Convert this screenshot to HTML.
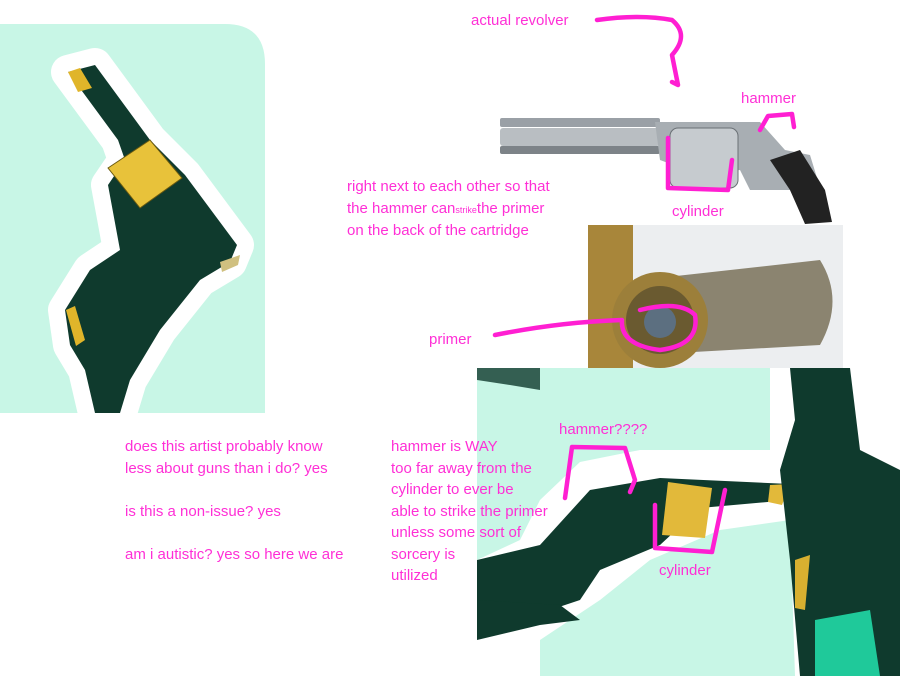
<!DOCTYPE html>
<html><head><meta charset="utf-8"><style>
html,body{margin:0;padding:0;background:#fff;}
body{width:900px;height:676px;overflow:hidden;position:relative;font-family:"Liberation Sans","DejaVu Sans",sans-serif;}
.t{position:absolute;color:#ff2fd6;font-size:15px;line-height:21.5px;white-space:nowrap;}
svg{position:absolute;left:0;top:0;}
</style></head><body>
<svg width="900" height="676" viewBox="0 0 900 676">
  <path d="M0 24 H225 Q265 24 265 64 V413 H0 Z" fill="#c8f6e6"/>
  <path d="M68 72 L95 65 L150 140 L185 175 L237 245 L230 262 L200 280 L160 330 L130 380 L120 413 L95 413 L85 370 L70 345 L65 310 L90 270 L120 250 L108 185 L125 160 L118 140 Z" fill="#fff" stroke="#fff" stroke-width="34" stroke-linejoin="round"/>
  <path d="M68 72 L95 65 L150 140 L185 175 L237 245 L230 262 L200 280 L160 330 L130 380 L120 413 L95 413 L85 370 L70 345 L65 310 L90 270 L120 250 L108 185 L125 160 L118 140 Z" fill="#0f3a2d"/>
  <path d="M68 72 L80 68 L92 88 L78 92 Z" fill="#e0b52a"/>
  <path d="M108 168 L150 140 L182 178 L140 208 Z" fill="#e8c23a" stroke="#6b5a10" stroke-width="1"/>
  <path d="M66 310 L75 306 L85 340 L76 346 Z" fill="#e0b52a"/>
  <path d="M220 262 L240 255 L238 265 L222 272 Z" fill="#d0c080"/>
  <rect x="477" y="368" width="423" height="308" fill="#fff"/>
  <path d="M477 368 H770 V450 H640 L580 462 L540 500 L520 540 L477 560 Z" fill="#c8f6e6"/>
  <path d="M540 640 L600 600 L650 560 L720 530 L790 520 L795 676 H540 Z" fill="#c8f6e6"/>
  <path d="M477 560 L540 545 L590 490 L660 478 L790 484 L790 500 L700 508 L660 545 L600 570 L580 600 L550 610 L477 615 Z" fill="#0f3a2d"/>
  <path d="M477 600 L560 605 L580 620 L540 625 L477 640 Z" fill="#0f3a2d"/>
  <path d="M668 482 L712 488 L705 538 L662 535 Z" fill="#e2b93a"/>
  <path d="M770 485 L790 484 L782 505 L768 502 Z" fill="#e2b93a"/>
  <path d="M790 368 L850 368 L860 450 L900 470 V676 H800 L790 560 L780 470 L795 420 Z" fill="#0f3a2d"/>
  <path d="M815 620 L870 610 L880 676 H815 Z" fill="#1fc99a"/>
  <path d="M795 560 L810 555 L805 610 L795 608 Z" fill="#d8b030"/>
  <path d="M477 368 H540 V390 L510 385 L477 380 Z" fill="#0f3a2d" opacity="0.8"/>
  <rect x="500" y="118" width="160" height="9" rx="2" fill="#9aa0a6"/>
  <rect x="500" y="128" width="160" height="18" rx="3" fill="#b9bec2"/>
  <rect x="500" y="146" width="160" height="8" rx="2" fill="#7d8388"/>
  <path d="M655 122 L760 122 L785 150 L810 155 L830 220 L805 222 L790 190 L750 190 L740 170 L700 175 L660 160 Z" fill="#a8aeb3"/>
  <rect x="670" y="128" width="68" height="60" rx="8" fill="#c6cbcf" stroke="#6a7075"/>
  <path d="M770 160 L800 150 L825 190 L832 222 L805 224 L790 190 Z" fill="#222"/>
  <rect x="588" y="225" width="255" height="143" fill="#eceef0"/>
  <rect x="588" y="225" width="45" height="143" fill="#a8863a"/>
  <path d="M640 280 L820 260 Q845 300 820 345 L640 355 Z" fill="#8b8470"/>
  <circle cx="660" cy="320" r="48" fill="#9c7f3a"/>
  <circle cx="660" cy="320" r="34" fill="#6a5a30"/>
  <circle cx="660" cy="322" r="16" fill="#5c6f80"/>
  <g fill="none" stroke="#ff1fd2" stroke-width="4.5" stroke-linecap="round" stroke-linejoin="round">
    <path d="M597 20 Q640 14 672 20 Q690 35 672 55 L678 85 L672 82"/>
    <path d="M760 130 L768 116 L792 114 L794 127"/>
    <path d="M668 138 L668 188 L728 190 L732 160"/>
    <path d="M495 335 Q560 322 622 320 Q620 345 660 350 Q700 345 695 315 Q680 300 640 310"/>
    <path d="M565 498 L572 447 L625 448 L635 480 L630 492"/>
    <path d="M655 505 L655 548 L712 552 L725 490"/>
  </g>
</svg>
<div class="t" style="left:471px;top:10px">actual revolver</div>
<div class="t" style="left:741px;top:88px">hammer</div>
<div class="t" style="left:672px;top:201px">cylinder</div>
<div class="t" style="left:347px;top:176px">right next to each other so that</div>
<div class="t" style="left:347px;top:198px">the hammer can<span style="font-size:9px">strike</span>the primer</div>
<div class="t" style="left:347px;top:220px">on the back of the cartridge</div>
<div class="t" style="left:429px;top:329px">primer</div>
<div class="t" style="left:125px;top:436px">does this artist probably know<br>less about guns than i do? yes<br><br>is this a non-issue? yes<br><br>am i autistic? yes so here we are</div>
<div class="t" style="left:391px;top:436px">hammer is WAY<br>too far away from the<br>cylinder to ever be<br>able to strike the primer<br>unless some sort of<br>sorcery is<br>utilized</div>
<div class="t" style="left:559px;top:419px">hammer????</div>
<div class="t" style="left:659px;top:560px">cylinder</div>
</body></html>
